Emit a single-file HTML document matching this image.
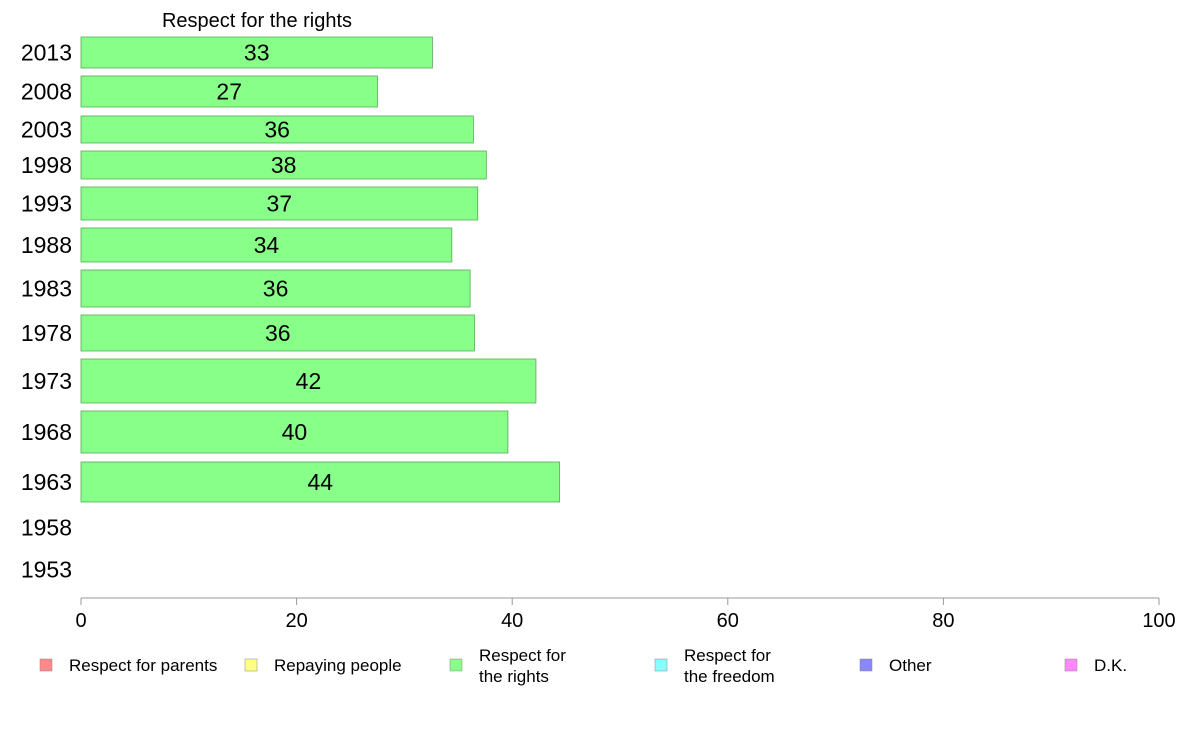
<!DOCTYPE html>
<html><head><meta charset="utf-8"><style>
body{margin:0;background:#fff;font-family:"Liberation Sans",Arial,sans-serif;}
svg text{font-family:"Liberation Sans",Arial,sans-serif;}
</style></head><body>
<svg id="chart" width="1188" height="736" xmlns="http://www.w3.org/2000/svg">
<text x="257" y="27" font-size="20" text-anchor="middle">Respect for the rights</text>
<g id="bars"></g>
<g id="axis"></g>
<g id="legend"></g>
</svg>
<script>
const years = ["2013","2008","2003","1998","1993","1988","1983","1978","1973","1968","1963","1958","1953"];
const values = [32.6,27.5,36.4,37.6,36.8,34.4,36.1,36.5,42.2,39.6,44.4,null,null];
const labels = ["33","27","36","38","37","34","36","36","42","40","44","",""];
const ticks = [0,20,40,60,80,100];
const legendNames = [["Respect for parents"],["Repaying people"],["Respect for","the rights"],["Respect for","the freedom"],["Other"],["D.K."]];
const legendColors = ["#ff8888","#ffff88","#88ff88","#88ffff","#8888ff","#ff88ff"];
// layout (row bands in px)
const bandTop = [37,76,116,151,187,228,270,315,359,411,462,510,552];
const bandBot = [68,107,143,179,220,262,307,351,403,453,502,545,587];
const NS="http://www.w3.org/2000/svg";
const x = v => 81 + v*10.78;
function mk(tag, attrs, parent){const e=document.createElementNS(NS,tag);for(const k in attrs)e.setAttribute(k,attrs[k]);parent.appendChild(e);return e;}
const gb=document.getElementById('bars');
years.forEach((y,i)=>{
  const mid=(bandTop[i]+bandBot[i])/2;
  const t=mk('text',{x:72,y:mid+8,'font-size':23,'text-anchor':'end'},gb);
  t.textContent=y;
  
  
  if(values[i]!=null){
    const r=mk('rect',{x:x(0),y:bandTop[i],width:x(values[i])-x(0),height:bandBot[i]-bandTop[i],fill:'#88ff88',stroke:'#55aa55','stroke-width':0.8},gb);
    
    
    const l=mk('text',{x:(x(0)+x(values[i]))/2,y:mid+8,'font-size':23,'text-anchor':'middle'},gb);
    l.textContent=labels[i];
    
    
  }
});
const ga=document.getElementById('axis');
mk('line',{x1:x(0),x2:x(100),y1:598,y2:598,stroke:'#999','stroke-width':1},ga);
ticks.forEach(t=>{
  mk('line',{x1:x(t),x2:x(t),y1:598,y2:605,stroke:'#999'},ga);
  const tx=mk('text',{x:x(t),y:627,'font-size':20,'text-anchor':'middle'},ga);
  tx.textContent=t;
  
  
});
const gl=document.getElementById('legend');
legendNames.forEach((n,i)=>{
  const bx=40+i*205;
  const s=mk('rect',{x:bx,y:659,width:12,height:12,fill:legendColors[i],stroke:'#888','stroke-width':0.5},gl);
  
  
  n.forEach((line,j)=>{
    const ty = n.length===1?671:661+j*21;
    const tt=mk('text',{x:bx+29,y:ty,'font-size':17},gl);
    tt.textContent=line;
    
    
  });
});
</script>
</body></html>
